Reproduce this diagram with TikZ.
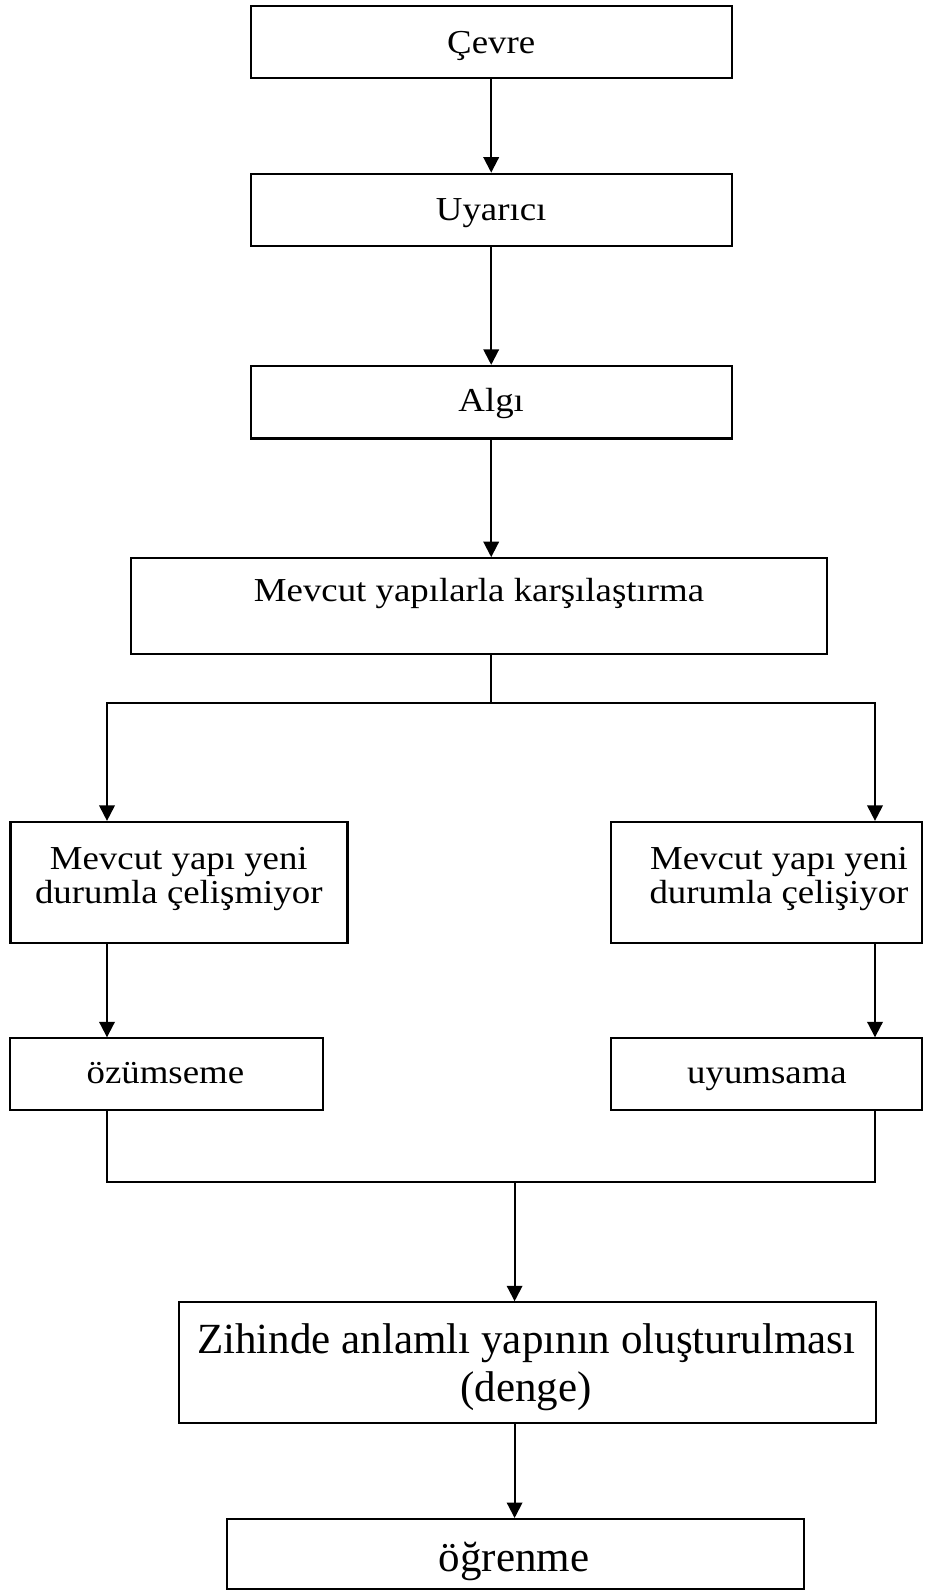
\documentclass[tikz,border=0pt]{standalone}
\usepackage{fontspec}
\setmainfont{Liberation Serif}
\newfontfamily\widefont{Liberation Serif}[FakeStretch=1.1]
\usetikzlibrary{arrows.meta}
\tikzset{
  box/.style={draw, line width=2.1pt, inner sep=0pt, rectangle},
  txt/.style={anchor=base, inner sep=0pt, align=center, font=\widefont\fontsize{33.5}{34}\selectfont},
  bigtxt/.style={anchor=base, inner sep=0pt, align=center, font=\fontsize{43}{48.3}\selectfont},
  conn/.style={line width=2pt},
  arr/.style={conn, -{Triangle[width=15.5pt,length=15.5pt]}},
}
\begin{document}
\begin{tikzpicture}[x=1pt,y=-1pt]
\useasboundingbox (0,0) rectangle (946,1590);
% boxes
\node[box, minimum width=481pt, minimum height=72.6pt] (cevre) at (491.2,42) {};
\node[box, minimum width=481pt, minimum height=72.6pt] (uyarici) at (491.2,210) {};
\node[box, minimum width=481pt, minimum height=72.6pt] (algi) at (491.2,402.2) {};
\node[box, minimum width=696.4pt, minimum height=96pt] (mevcut) at (478.8,606.2) {};
\node[box, minimum width=337pt, minimum height=120.7pt] (ml) at (179,882.3) {};
\node[box, minimum width=311.4pt, minimum height=120.7pt] (mr) at (766.6,882.3) {};
\node[box, minimum width=312.5pt, minimum height=71.7pt] (oz) at (166.5,1074.2) {};
\node[box, minimum width=310.7pt, minimum height=71.7pt] (uy) at (766.5,1074.2) {};
\node[box, minimum width=696.8pt, minimum height=120.4pt] (zih) at (527.3,1362.5) {};
\node[box, minimum width=576.7pt, minimum height=69.5pt] (og) at (515.2,1553.8) {};
% texts (base = baseline of last line)
\node[txt] (cevre-t) at (491.2,53.3) {Çevre};
\node[txt] (uyarici-t) at (491.2,220.7) {Uyarıcı};
\node[txt] (algi-t) at (491.2,411.7) {Algı};
\node[txt] (mevcut-t) at (479,601.7) {Mevcut yapılarla karşılaştırma};
\node[txt] (ml-t) at (178.8,903) {Mevcut yapı yeni\\durumla çelişmiyor};
\node[txt] (mr-t) at (779,903) {Mevcut yapı yeni\\durumla çelişiyor};
\node[txt] (oz-t) at (165.4,1083.3) {özümseme};
\node[txt] (uy-t) at (767,1083.3) {uyumsama};
\node[bigtxt] (zih-t) at (526.2,1401.7) {Zihinde anlamlı yapının oluşturulması\\(denge)};
\node[bigtxt] (og-t) at (514,1571.7) {öğrenme};
% connectors
\draw[arr] (cevre) -- (uyarici);
\draw[arr] (uyarici) -- (algi);
\draw[arr] (algi.south) -- (algi.south |- mevcut.north);
\coordinate (split) at (491,702.7);
\coordinate (lx) at (107,0);
\coordinate (rx) at (875,0);
\draw[conn] (split |- mevcut.south) -- (split);
\draw[arr] (split) -| (lx |- ml.north);
\draw[arr] (split) -| (rx |- mr.north);
\draw[arr] (lx |- ml.south) -- (lx |- oz.north);
\draw[arr] (rx |- mr.south) -- (rx |- uy.north);
\coordinate (join) at (514.6,1182.3);
\draw[conn] (lx |- oz.south) |- (join) -| (rx |- uy.south);
\draw[arr] (join) -- (join |- zih.north);
\draw[arr] (join |- zih.south) -- (join |- og.north);
\end{tikzpicture}
\end{document}
